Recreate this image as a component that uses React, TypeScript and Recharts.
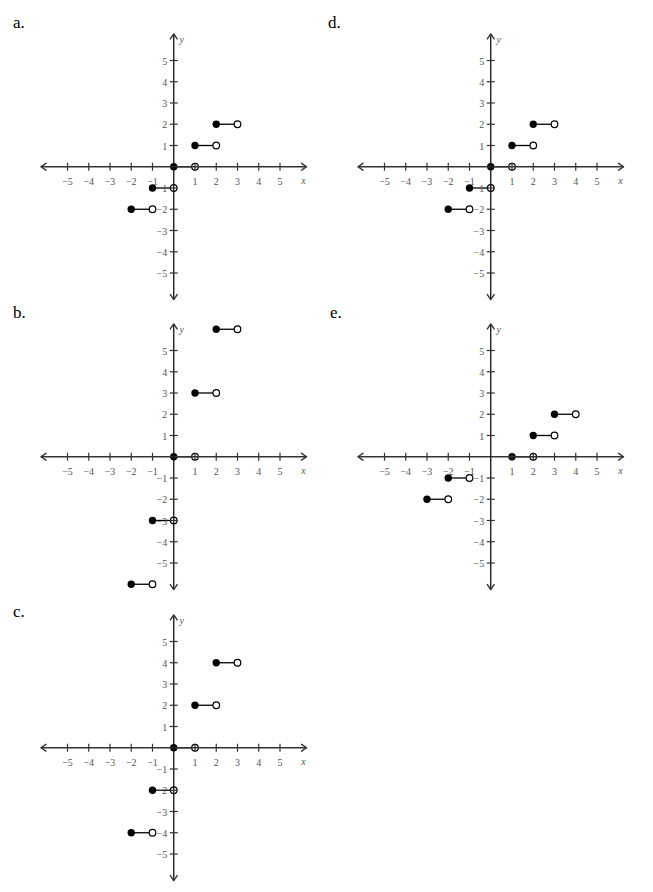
import React from 'react';
import { ScatterChart, Scatter, XAxis, YAxis } from 'recharts';

// ---- data ----
const tickValues = [-5, -4, -3, -2, -1, 1, 2, 3, 4, 5];
const tickLabels = ['−5', '−4', '−3', '−2', '−1', '1', '2', '3', '4', '5'];
const axisEnd = 6.25;

const stepStartsA = [-2, -1, 0, 1, 2];
const stepValuesA = [-2, -1, 0, 1, 2];
const stepStartsB = [-2, -1, 0, 1, 2];
const stepValuesB = [-6, -3, 0, 3, 6];
const stepStartsC = [-2, -1, 0, 1, 2];
const stepValuesC = [-4, -2, 0, 2, 4];
const stepStartsD = [-2, -1, 0, 1, 2];
const stepValuesD = [-2, -1, 0, 1, 2];
const stepStartsE = [-3, -2, 1, 2, 3];
const stepValuesE = [-2, -1, 0, 1, 2];

const panelLetters = ['a.', 'b.', 'c.', 'd.', 'e.'];

// ---- layout / style ----
const UNIT = 21.25;
const DOM = 7;
const SIZE = UNIT * DOM * 2;
const SERIF = "'Liberation Serif', 'DejaVu Serif', 'Times New Roman', serif";
const AXIS_COLOR = '#333';
const LABEL_COLOR = '#555';

const panelOrigins = [
  { ox: 173.7, oy: 166.6 },
  { ox: 173.7, oy: 457 },
  { ox: 173.7, oy: 747.5 },
  { ox: 490.7, oy: 166.6 },
  { ox: 490.7, oy: 457 },
];
const letterPos = [
  { left: 13, base: 28 },
  { left: 13, base: 318 },
  { left: 13, base: 617 },
  { left: 328, base: 28 },
  { left: 330, base: 318 },
];

const xAxisData = [
  { x: -axisEnd, y: 0, dir: 'left' },
  { x: axisEnd, y: 0, dir: 'right' },
];
const yAxisData = [
  { x: 0, y: -axisEnd, dir: 'down' },
  { x: 0, y: axisEnd, dir: 'up' },
];
const xTickData = tickValues.map((v, i) => ({ x: v, y: 0, label: tickLabels[i] }));
const yTickData = tickValues.map((v, i) => ({ x: 0, y: v, label: tickLabels[i] }));
const xNameData = [{ x: axisEnd, y: 0, label: 'x' }];
const yNameData = [{ x: 0, y: axisEnd, label: 'y' }];

const ArrowShape = (props: any) => {
  const { cx, cy, payload } = props;
  const b = 5;
  const h = 3.4;
  let d = '';
  if (payload.dir === 'right') d = `M${cx - b},${cy - h} L${cx},${cy} L${cx - b},${cy + h}`;
  if (payload.dir === 'left') d = `M${cx + b},${cy - h} L${cx},${cy} L${cx + b},${cy + h}`;
  if (payload.dir === 'up') d = `M${cx - h},${cy + b} L${cx},${cy} L${cx + h},${cy + b}`;
  if (payload.dir === 'down') d = `M${cx - h},${cy - b} L${cx},${cy} L${cx + h},${cy - b}`;
  return <path d={d} fill="none" stroke={AXIS_COLOR} strokeWidth={1.4} strokeLinecap="round" strokeLinejoin="round" />;
};

const XTickShape = (props: any) => {
  const { cx, cy, payload } = props;
  return (
    <g>
      <line x1={cx} y1={cy - 4} x2={cx} y2={cy + 4} stroke={AXIS_COLOR} strokeWidth={1.2} />
      <text x={cx} y={cy + 18.5} textAnchor="middle" fontFamily={SERIF} fontSize={10} fill={LABEL_COLOR}>
        {payload.label}
      </text>
    </g>
  );
};

const YTickShape = (props: any) => {
  const { cx, cy, payload } = props;
  return (
    <g>
      <line x1={cx - 4} y1={cy} x2={cx + 4} y2={cy} stroke={AXIS_COLOR} strokeWidth={1.2} />
      <text x={cx - 6.5} y={cy + 4} textAnchor="end" fontFamily={SERIF} fontSize={10} fill={LABEL_COLOR}>
        {payload.label}
      </text>
    </g>
  );
};

const XNameShape = (props: any) => {
  const { cx, cy, payload } = props;
  return (
    <text x={cx - 3} y={cy + 17.5} textAnchor="middle" fontFamily={SERIF} fontStyle="italic" fontSize={10} fill={LABEL_COLOR}>
      {payload.label}
    </text>
  );
};

const YNameShape = (props: any) => {
  const { cx, cy, payload } = props;
  return (
    <text x={cx + 8} y={cy + 9} textAnchor="middle" fontFamily={SERIF} fontStyle="italic" fontSize={10} fill={LABEL_COLOR}>
      {payload.label}
    </text>
  );
};

const DotShape = (props: any) => {
  const { cx, cy, payload } = props;
  if (payload.closed) return <circle cx={cx} cy={cy} r={3.7} fill="#000" />;
  return <circle cx={cx} cy={cy} r={3.3} fill="#fff" stroke="#000" strokeWidth={1.2} />;
};

const NoShape = () => <g />;

function Panel({ starts, values, index }: { starts: number[]; values: number[]; index: number }) {
  const { ox, oy } = panelOrigins[index];
  const lp = letterPos[index];
  const segments = starts.map((s, i) => [
    { x: s, y: values[i], closed: true },
    { x: s + 1, y: values[i], closed: false },
  ]);
  return (
    <>
      <div
        style={{
          position: 'absolute',
          left: lp.left,
          top: lp.base - 14.25,
          fontFamily: SERIF,
          fontSize: 17,
          lineHeight: '17px',
          color: '#000',
        }}
      >
        {panelLetters[index]}
      </div>
      <div style={{ position: 'absolute', left: ox - SIZE / 2, top: oy - SIZE / 2, width: SIZE, height: SIZE }}>
        <ScatterChart width={SIZE} height={SIZE} margin={{ top: 0, right: 0, bottom: 0, left: 0 }}>
          <XAxis dataKey="x" type="number" domain={[-DOM, DOM]} hide />
          <YAxis dataKey="y" type="number" domain={[-DOM, DOM]} hide />
          {segments.map((seg, i) => (
            <Scatter
              key={'seg' + i}
              data={seg}
              fill="#000"
              line={{ stroke: '#000', strokeWidth: 1.3 }}
              shape={NoShape}
              isAnimationActive={false}
            />
          ))}
          {segments.map((seg, i) => (
            <Scatter key={'dot' + i} data={seg} fill="#000" shape={DotShape} isAnimationActive={false} />
          ))}
          <Scatter
            data={xAxisData}
            fill={AXIS_COLOR}
            line={{ stroke: AXIS_COLOR, strokeWidth: 1.3 }}
            shape={ArrowShape}
            isAnimationActive={false}
          />
          <Scatter
            data={yAxisData}
            fill={AXIS_COLOR}
            line={{ stroke: '#111', strokeWidth: 1.3 }}
            shape={ArrowShape}
            isAnimationActive={false}
          />
          <Scatter data={xTickData} fill={AXIS_COLOR} shape={XTickShape} isAnimationActive={false} />
          <Scatter data={yTickData} fill={AXIS_COLOR} shape={YTickShape} isAnimationActive={false} />
          <Scatter data={xNameData} fill={AXIS_COLOR} shape={XNameShape} isAnimationActive={false} />
          <Scatter data={yNameData} fill={AXIS_COLOR} shape={YNameShape} isAnimationActive={false} />
        </ScatterChart>
      </div>
    </>
  );
}

export default function App() {
  return (
    <div style={{ position: 'absolute', left: 0, top: 0, width: 653, height: 892, background: '#fff', overflow: 'hidden' }}>
      <Panel starts={stepStartsA} values={stepValuesA} index={0} />
      <Panel starts={stepStartsB} values={stepValuesB} index={1} />
      <Panel starts={stepStartsC} values={stepValuesC} index={2} />
      <Panel starts={stepStartsD} values={stepValuesD} index={3} />
      <Panel starts={stepStartsE} values={stepValuesE} index={4} />
    </div>
  );
}
